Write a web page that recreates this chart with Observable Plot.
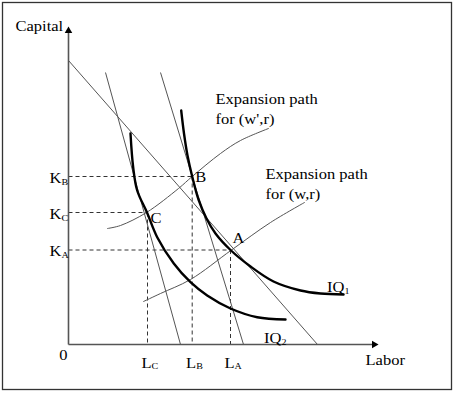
<!DOCTYPE html>
<html><head><meta charset="utf-8">
<script src="https://cdn.jsdelivr.net/npm/d3@7"></script>
<script src="https://cdn.jsdelivr.net/npm/@observablehq/plot@0.6"></script>
<style>body{margin:0;background:#fff} svg{display:block} svg text{font-family:"Liberation Serif","Tinos","DejaVu Serif",serif !important}</style>
</head><body><div id="chart"></div>
<script>
// Isoquants (Labor, Capital)
const iq1Labor = [11.27, 11.55, 11.9, 12.37, 13.0, 13.8, 14.7, 16.2, 18.2, 20.5, 23.2, 25.2, 27.5];
const iq1Capital = [23.4, 21.1, 18.9, 16.8, 14.5, 12.6, 11.1, 9.45, 7.8, 6.3, 5.4, 5.1, 5.0];
const iq2Labor = [6.2, 6.47, 6.87, 7.85, 8.87, 10.53, 12.2, 13.87, 16.2, 18.87, 21.7];
const iq2Capital = [21.1, 17.7, 15.4, 13.2, 10.73, 8.1, 6.23, 4.9, 3.6, 2.73, 2.5];
// Expansion paths
const pathPrimeLabor = [3.9, 5.2, 7.8, 11.0, 12.37, 15.2, 17.2, 20.0];
const pathPrimeCapital = [11.6, 11.9, 13.2, 15.6, 16.8, 19.1, 20.4, 21.6];
const pathLabor = [7.5, 9.2, 12.2, 16.3, 20.2, 23.6];
const pathCapital = [4.3, 5.1, 6.5, 9.45, 12.2, 14.2];
// Isocost lines: start (L, K) and end (L, K)
const isocostStartL = [0, 9.2, 3.7];
const isocostStartK = [28.4, 27.2, 27.2];
const isocostEndL = [24.9, 17.5, 11.2];
const isocostEndK = [0, 0, 0];
// Tangency points
const pointNames = ["A", "B", "C"];
const pointLabor = [16.2, 12.37, 7.9];
const pointCapital = [9.45, 16.8, 13.2];
// Axis extents
const laborAxisEnd = 30.57;
const capitalAxisEnd = 31.36;

const iq1 = iq1Labor.map((x, i) => ({x, y: iq1Capital[i]}));
const iq2 = iq2Labor.map((x, i) => ({x, y: iq2Capital[i]}));
const pathPrime = pathPrimeLabor.map((x, i) => ({x, y: pathPrimeCapital[i]}));
const path = pathLabor.map((x, i) => ({x, y: pathCapital[i]}));
const isocosts = isocostStartL.map((x1, i) => ({x1, y1: isocostStartK[i], x2: isocostEndL[i], y2: isocostEndK[i]}));
const points = pointNames.map((name, i) => ({name, L: pointLabor[i], K: pointCapital[i]}));

const FONT = "Liberation Serif, Tinos, DejaVu Serif, serif";
const FS = 14, SUB = 8.5;
const T = {fontFamily: FONT, fill: "#000", lineAnchor: "bottom"};

const chart = Plot.plot({
  width: 457, height: 394,
  marginLeft: 2, marginTop: 2, marginRight: 6, marginBottom: 5,
  x: {domain: [-6.6, 38.3], axis: null},
  y: {domain: [-4.5, 34.2], axis: null},
  style: {fontFamily: FONT, fontSize: "14px", background: "#fff", color: "#000"},
  marks: [
    Plot.frame({stroke: "#333", strokeWidth: 1.3}),
    // dashed guides
    Plot.link(points, {x1: 0, y1: "K", x2: "L", y2: "K", stroke: "#333", strokeWidth: 1, strokeDasharray: "4,3"}),
    Plot.link(points, {x1: "L", y1: "K", x2: "L", y2: 0, stroke: "#333", strokeWidth: 1, strokeDasharray: "4,3"}),
    // isocost lines
    Plot.link(isocosts, {x1: "x1", y1: "y1", x2: "x2", y2: "y2", stroke: "#555", strokeWidth: 1}),
    // expansion paths
    Plot.line(pathPrime, {x: "x", y: "y", curve: "catmull-rom", stroke: "#555", strokeWidth: 1}),
    Plot.line(path, {x: "x", y: "y", curve: "catmull-rom", stroke: "#555", strokeWidth: 1}),
    // isoquants
    Plot.line(iq1, {x: "x", y: "y", curve: "catmull-rom", stroke: "#000", strokeWidth: 2.4}),
    Plot.line(iq2, {x: "x", y: "y", curve: "catmull-rom", stroke: "#000", strokeWidth: 2.4}),
    // axes
    Plot.link([0], {x1: 0, y1: 0, x2: 0, y2: capitalAxisEnd, stroke: "#555", strokeWidth: 1.6}),
    Plot.link([0], {x1: 0, y1: 0, x2: laborAxisEnd, y2: 0, stroke: "#555", strokeWidth: 1.6}),
    Plot.dot([0], {x: 0, y: capitalAxisEnd, symbol: "triangle", r: 2.8, fill: "#000", stroke: null}),
    Plot.dot([0], {x: laborAxisEnd, y: 0, symbol: "triangle", r: 2.8, fill: "#000", stroke: null, rotate: 90}),
    // axis titles
    Plot.text(["Capital"], {...T, x: -5.3, y: 31.4, textAnchor: "start", fontSize: FS}),
    Plot.text(["Labor"], {...T, x: 29.7, y: -2.0, textAnchor: "start", fontSize: FS}),
    Plot.text(["0"], {...T, x: -0.5, y: -1.55, textAnchor: "middle", fontSize: FS}),
    // tick labels K and L with subscripts
    Plot.text(points, {...T, x: 0, y: "K", text: () => "K", textAnchor: "end", dx: -7, dy: 6, fontSize: FS}),
    Plot.text(points, {...T, x: 0, y: "K", text: "name", textAnchor: "start", dx: -7, dy: 8, fontSize: SUB}),
    Plot.text(points, {...T, x: "L", y: 0, text: () => "L", textAnchor: "end", dx: 4, dy: 23, fontSize: FS}),
    Plot.text(points, {...T, x: "L", y: 0, text: "name", textAnchor: "start", dx: 4, dy: 24, fontSize: SUB}),
    // point labels
    Plot.text([points[0]], {...T, x: "L", y: "K", text: "name", textAnchor: "start", dx: 2, dy: -7, fontSize: FS}),
    Plot.text([points[1]], {...T, x: "L", y: "K", text: "name", textAnchor: "start", dx: 3, dy: 5, fontSize: FS}),
    Plot.text([points[2]], {...T, x: "L", y: "K", text: "name", textAnchor: "start", dx: 3, dy: 10, fontSize: FS}),
    // expansion path labels
    Plot.text(["Expansion path\nfor (w',r)"], {...T, x: 14.7, y: 22.1, textAnchor: "start", lineHeight: 1.38, fontSize: FS}),
    Plot.text(["Expansion path\nfor (w,r)"], {...T, x: 19.7, y: 14.6, textAnchor: "start", lineHeight: 1.42, fontSize: FS}),
    // isoquant labels
    Plot.text(["IQ"], {...T, x: 27.6, y: 5.3, textAnchor: "end", fontSize: FS}),
    Plot.text(["1"], {...T, x: 27.6, y: 5.1, textAnchor: "start", fontSize: SUB}),
    Plot.text(["IQ"], {...T, x: 21.3, y: 0.2, textAnchor: "end", fontSize: FS}),
    Plot.text(["2"], {...T, x: 21.3, y: 0.0, textAnchor: "start", fontSize: SUB})
  ]
});
// the reference type is set slightly wide: stretch glyphs horizontally about each anchor
d3.select(chart).selectAll("text").each(function() {
  const t = this.getAttribute("transform") || "";
  this.setAttribute("transform", t + " scale(1.18,1)");
});
document.getElementById("chart").appendChild(chart);
</script>
</body></html>
